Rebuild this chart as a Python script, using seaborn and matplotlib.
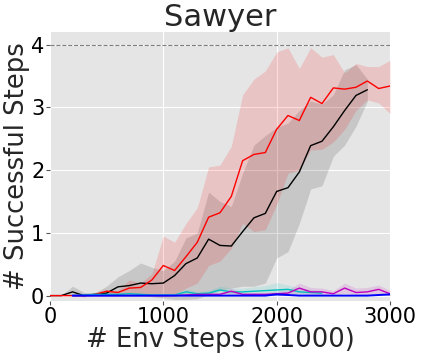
import numpy as np
import pandas as pd
import matplotlib
matplotlib.use("Agg")
import matplotlib.pyplot as plt
import seaborn as sns

# ---------------- data ----------------
steps = list(range(0, 3100, 100))

red_mean = [0, 0, 0, 0, 0.02, 0.07, 0.05, 0.12, 0.13, 0.25, 0.48, 0.40, 0.62, 0.85, 1.25, 1.32,
            1.58, 2.15, 2.25, 2.28, 2.65, 2.87, 2.79, 3.16, 3.06, 3.31, 3.29, 3.32, 3.42, 3.30, 3.34]
red_hi = [0, 0, 0, 0.02, 0.05, 0.10, 0.08, 0.25, 0.20, 0.35, 0.95, 0.85, 1.15, 1.40, 2.05, 2.08,
          2.38, 3.20, 3.45, 3.58, 3.88, 3.95, 3.62, 3.95, 3.80, 3.84, 3.55, 3.70, 3.65, 3.65, 3.75]
red_lo = [0, 0, 0, 0, 0, 0, 0, 0, 0, 0, -0.02, 0.02, 0.12, 0.20, 0.48, 0.55,
          0.75, 1.15, 1.02, 1.05, 1.45, 1.95, 2.00, 2.32, 2.33, 2.45, 2.65, 2.95, 3.12, 3.07, 2.90]

black_steps = list(range(0, 2900, 100))
black_mean = [0, 0, 0.06, 0, 0.02, 0.04, 0.14, 0.16, 0.20, 0.19, 0.20, 0.32, 0.51, 0.60, 0.90,
              0.80, 0.79, 1.02, 1.24, 1.31, 1.66, 1.72, 1.97, 2.39, 2.46, 2.69, 2.95, 3.19, 3.28]
black_hi = [0, 0, 0.15, 0.05, 0.05, 0.15, 0.30, 0.40, 0.52, 0.45, 0.40, 0.55, 0.92, 1.00, 1.65,
            1.50, 1.42, 1.95, 2.40, 2.55, 2.68, 2.75, 2.95, 3.10, 3.05, 3.20, 3.60, 3.68, 3.45]
black_lo = [0, 0, 0, -0.02, 0, 0, 0, 0, 0, -0.02, -0.04, -0.06, -0.06, -0.05, 0.02,
            0.08, 0.12, 0.15, 0.15, 0.20, 0.60, 0.70, 1.15, 1.70, 1.75, 2.22, 2.40, 2.70, 3.10]

cyan_steps = list(range(200, 2500, 100))
cyan_mean = [0, 0.01, 0.02, 0.02, 0.02, 0.03, 0.02, 0.01, 0.01, 0.01, 0.06, 0.03, 0.04, 0.09,
             0.06, 0.06, 0.07, 0.08, 0.09, 0.10, 0.06, 0.05, 0.04]
cyan_hi = [0, 0.03, 0.04, 0.04, 0.04, 0.05, 0.04, 0.03, 0.03, 0.03, 0.10, 0.07, 0.08, 0.15,
           0.12, 0.12, 0.14, 0.16, 0.21, 0.17, 0.12, 0.10, 0.08]
cyan_lo = [0, 0, 0, 0, 0, 0.01, 0, 0, 0, 0, 0.02, 0, 0, 0.03,
           0.01, 0.01, 0.01, 0.01, 0, 0.03, 0.01, 0.01, 0]

mag_steps = list(range(200, 3100, 100))
mag_mean = [0, 0, 0, 0, 0, 0, 0, 0, 0, 0, 0.01, 0.02, 0.02,
            0.02, 0.07, 0.02, 0.02, 0.02, 0.03, 0.04, 0.12, 0.06, 0.06, 0.03, 0.12, 0.05, 0.06, 0.10, 0.03]
mag_hi = [0, 0, 0, 0, 0, 0, 0, 0, 0.01, 0.01, 0.03, 0.05, 0.05,
          0.05, 0.12, 0.05, 0.05, 0.05, 0.07, 0.09, 0.20, 0.13, 0.12, 0.08, 0.20, 0.12, 0.13, 0.17, 0.08]
mag_lo = [0, 0, 0, 0, 0, 0, 0, 0, 0, 0, 0, 0, 0,
          0, 0.02, 0, 0, 0, 0, 0, 0.04, 0.01, 0.01, 0, 0.04, 0, 0.01, 0.03, 0]

blue_steps = list(range(200, 3100, 100))
blue_mean = [0] * 18 + [0.02, 0.01, 0.0, 0.0, 0.0, 0.0, 0.0, 0.0, 0.0, 0.01, 0.02]
blue_hi = [0.005] * 18 + [0.03, 0.02, 0.01, 0.01, 0.01, 0.01, 0.01, 0.01, 0.01, 0.02, 0.03]
blue_lo = [0] * 29

title = "Sawyer"
xlabel = "# Env Steps (x1000)"
ylabel = "# Successful Steps"
xticks = [0, 1000, 2000, 3000]
yticks = [0, 1, 2, 3, 4]

# ---------------- style ----------------
sns.set_style("darkgrid", {
    "axes.facecolor": "#E5E5E5",
    "grid.color": "white",
    "xtick.bottom": True,
    "ytick.left": True,
    "xtick.color": "#555555",
    "ytick.color": "#555555",
})
plt.rcParams["font.family"] = ["DejaVu Sans"]

fig = plt.figure(figsize=(4.23, 3.60), dpi=100)
ax = fig.add_axes([0.118, 0.164, 0.804, 0.747])

series = [
    (black_steps, black_mean, black_lo, black_hi, "black", 1.0, 0.13),
    (steps, red_mean, red_lo, red_hi, "red", 1.0, 0.14),
    (cyan_steps, cyan_mean, cyan_lo, cyan_hi, "c", 1.0, 0.13),
    (mag_steps, mag_mean, mag_lo, mag_hi, "m", 1.0, 0.13),
    (blue_steps, blue_mean, blue_lo, blue_hi, "b", 1.4, 0.13),
]

for xs, m, lo, hi, col, lw, a in series:
    df = pd.DataFrame({"x": xs, "y": m})
    ax.fill_between(xs, lo, hi, color=col, alpha=a, linewidth=0)
    sns.lineplot(data=df, x="x", y="y", color=col, linewidth=lw, ax=ax)

ax.axhline(4, color="gray", linestyle="--", linewidth=0.8)

ax.set_xlim(0, 3000)
ax.set_ylim(-0.085, 4.2)
ax.set_xticks(xticks)
ax.set_yticks(yticks)
ax.tick_params(axis="both", labelsize=15, labelcolor="black", length=3, width=0.8, pad=1)
ax.set_title(title, fontsize=22, pad=4)
ax.set_xlabel(xlabel, fontsize=18.6, labelpad=0)
ax.set_ylabel(ylabel, fontsize=18.6, labelpad=1)
for s in ax.spines.values():
    s.set_visible(False)

fig.savefig("out.png", dpi=100)
